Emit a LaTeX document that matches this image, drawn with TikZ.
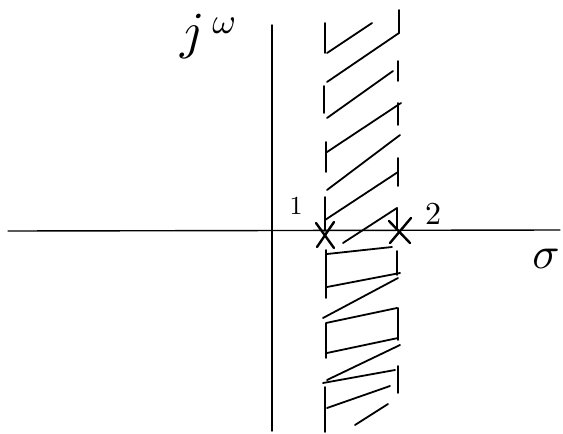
\documentclass[tikz,border=0pt]{standalone}
\usepackage{graphicx}
\begin{document}
\begin{tikzpicture}[x=1pt,y=-1pt, line cap=round, line join=round,
  axis/.style={line width=1.4pt},
  hatch/.style={line width=1.8pt},
  crossmark/.style={line width=2.4pt},
  lbl/.style={inner sep=0pt, outer sep=0pt}]
\useasboundingbox[fill=white] (0,0) rectangle (563,434);
% axes
\coordinate (ytop) at (272,25);
\coordinate (ybot) at (272,431);
\coordinate (xl) at (8,231);
\coordinate (xr) at (560,230);
\draw[axis] (ybot) -- (ytop);
\draw[axis] (xl) -- (xr);
% poles
\coordinate (p1) at (325,235);
\coordinate (p2) at (400,232);
\draw[crossmark] (p1) ++(-9,-12) -- ++(18,25);
\draw[crossmark] (p1) ++(9,-13) -- ++(-17,25);
\draw[crossmark] (p2) ++(-11,-11) -- ++(21,22);
\draw[crossmark] (p2) ++(11,-14) -- ++(-21,25);
% hatching above the axis
\draw[hatch] (325,23) -- (325,53);
\draw[hatch] (327,53) -- (372,23);
\draw[hatch] (399,10) -- (399,33) -- (327,82);
\draw[hatch] (324,86) -- (324,113);
\draw[hatch] (398,61) -- (398,81);
\draw[hatch] (393,71) -- (327,118);
\draw[hatch] (401,103) -- (327,152);
\draw[hatch] (398,103) -- (398,125);
\draw[hatch] (326,142) -- (326,172);
\draw[hatch] (400,135) -- (327,190);
\draw[hatch] (398,158) -- (398,186);
\draw[hatch] (398,172) -- (325,220);
\draw[hatch] (325,197) -- (325,231);
\draw[hatch] (343,243) -- (397,208) -- (397,230);
% hatching below the axis
\draw[hatch] (326,250) -- (326,298);
\draw[hatch] (327,254) -- (392,247);
\draw[hatch] (397,251) -- (397,275);
\draw[hatch] (327,287) -- (400,273);
\draw[hatch] (323,318) -- (398,278);
\draw[hatch] (397,308) -- (326,323) -- (326,358);
\draw[hatch] (398,308) -- (398,340);
\draw[hatch] (327,353) -- (398,338);
\draw[hatch] (327,380) -- (400,345);
\draw[hatch] (323,383) -- (395,370);
\draw[hatch] (398,366) -- (398,393);
\draw[hatch] (325,387) -- (325,432);
\draw[hatch] (327,408) -- (390,386);
\draw[hatch] (355,425) -- (388,404);
% labels
\node[lbl, anchor=base west] (jw) at (180,48)
  {\scalebox{5.2}{$j$}\hspace{8pt}\raisebox{15pt}{\scalebox{3.6}{$\omega$}}};
\node[lbl, anchor=base] (sigma) at (546,268) {\scalebox{4.5}{$\sigma$}};
\node[lbl, anchor=base] (one) at (296,214) {\scalebox{2.6}{1}};
\node[lbl, anchor=base] (two) at (433,224) {\scalebox{3.2}{2}};
\end{tikzpicture}
\end{document}
